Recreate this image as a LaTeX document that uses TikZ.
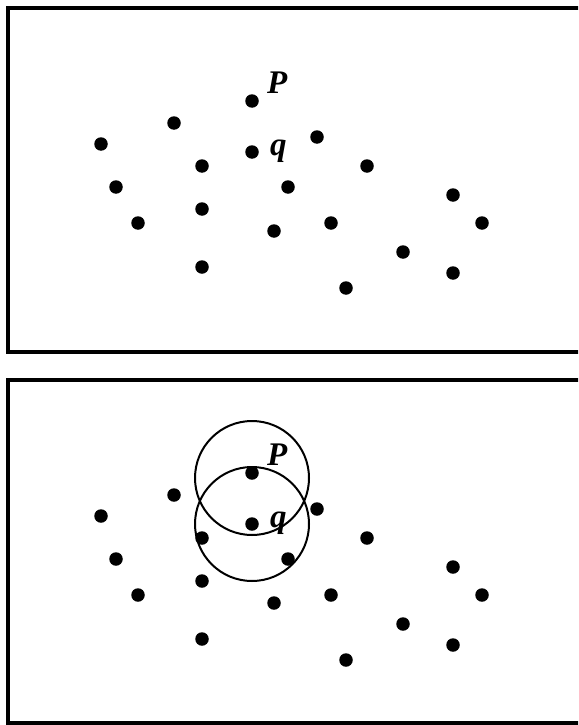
\documentclass[tikz,border=0pt]{standalone}
\usepackage{fontspec}
\setmainfont{Liberation Serif}
\begin{document}
\begin{tikzpicture}[x=1pt,y=-1pt,
  dot/.style={circle,fill=black,inner sep=0pt,minimum size=13.5pt},
  frame/.style={draw=black,line width=3.2pt},
  lbl/.style={font=\fontsize{33}{33}\selectfont\bfseries\itshape,inner sep=0pt,anchor=base west},
  ring/.style={draw=black,line width=2pt}]
\useasboundingbox (0,0) rectangle (578,725);
\clip (0,0) rectangle (578,725);
\draw[frame] (8,8) rectangle (600,352);
\draw[frame] (8,380) rectangle (600,723);
\foreach \oy/\pn in {0/a,372/b}{
  \begin{scope}[yshift=-\oy pt]
  \node[dot] (P\pn) at (252,101) {};
  \node[dot] (q\pn) at (252,152) {};
  \node[lbl] (LP\pn) at (267,93) {P};
  \node[lbl] (Lq\pn) at (270,155) {q};
  \foreach \x/\y [count=\i] in {174/123,101/144,202/166,317/137,367/166,288/187,116/187,202/209,138/223,274/231,331/223,453/195,482/223,403/252,453/273,202/267,346/288}{
    \node[dot] (d\pn\i) at (\x,\y) {};
  }
  \end{scope}
}
\draw[ring] (Pb) ++(0,5) circle[radius=57];
\draw[ring] (qb) circle[radius=57];
\end{tikzpicture}
\end{document}
